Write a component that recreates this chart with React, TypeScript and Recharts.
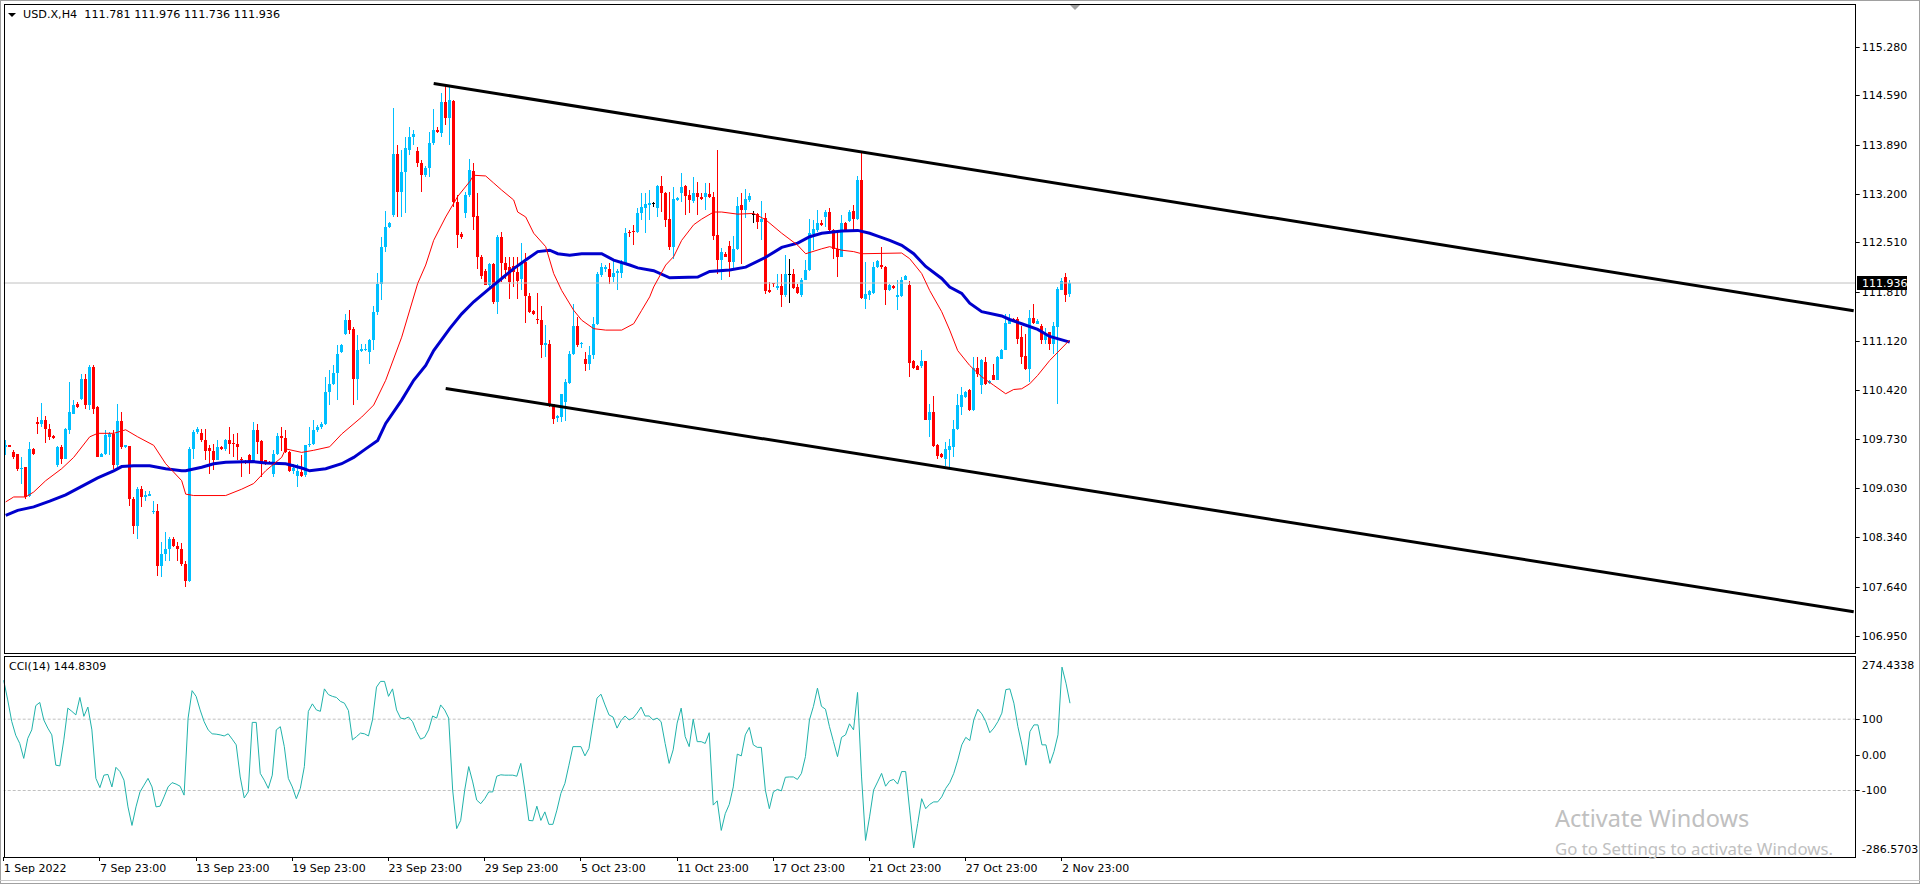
import React from "react";
import { ComposedChart, Bar, Line, XAxis, YAxis, ReferenceLine } from "recharts";

const FONT = "'DejaVu Sans', Verdana, sans-serif";
const BULL = "#00bfff";
const BEAR = "#ff0000";
const SLOTS = 463; // bar slots across the window, right side left empty (chart shift)

const headerText = "USD.X,H4  111.781 111.976 111.736 111.936";
const cciTitle = "CCI(14) 144.8309";
const lastPrice = 111.936;

// H4 candles
const opens = [
  109.615, 109.640, 109.544, 109.511, 109.308, 109.331, 108.930, 109.591, 109.969, 109.936,
  109.993, 109.874, 109.771, 109.355, 109.615, 109.449, 109.851, 110.087, 110.229, 110.300,
  110.573, 110.205, 110.748, 110.181, 109.482, 109.520, 109.756, 109.804, 109.355, 109.983,
  109.615, 109.624, 108.883, 108.495, 109.024, 108.916, 108.930, 108.694, 108.717, 107.938,
  108.103, 108.174, 108.316, 108.222, 108.174, 107.962, 107.725, 109.591, 109.827, 109.813,
  109.719, 109.600, 109.567, 109.435, 109.615, 109.591, 109.709, 109.676, 109.662, 109.449,
  109.412, 109.506, 109.426, 109.860, 109.695, 109.426, 109.402, 109.237, 109.520, 109.766,
  109.747, 109.544, 109.284, 109.213, 109.260, 109.223, 109.638, 109.662, 109.851, 109.898,
  109.945, 110.394, 110.503, 110.663, 110.961, 111.221, 111.409, 111.291, 110.583, 110.975,
  110.984, 110.961, 111.126, 111.528, 111.929, 112.449, 112.732, 112.897, 113.761, 113.228,
  113.511, 113.818, 114.007, 113.809, 113.629, 113.464, 113.558, 113.913, 114.102, 114.054,
  114.503, 114.267, 114.513, 113.086, 112.628, 112.921, 113.180, 113.525, 112.883, 112.297,
  112.108, 111.905, 112.203, 111.669, 112.581, 112.212, 112.156, 112.174, 112.094, 111.999,
  112.236, 111.754, 111.537, 111.433, 111.419, 111.065, 111.079, 110.228, 110.025, 110.040,
  110.252, 110.526, 110.928, 111.324, 111.069, 110.857, 110.795, 110.913, 111.353, 112.047,
  112.141, 112.141, 112.023, 112.071, 112.080, 112.212, 112.661, 112.675, 112.661, 112.921,
  112.991, 113.038, 113.062, 112.991, 113.307, 113.203, 112.835, 112.448, 113.109, 113.203,
  113.307, 113.180, 113.099, 113.203, 113.147, 113.147, 113.190, 113.156, 112.613, 112.259,
  112.353, 112.457, 112.235, 112.424, 113.038, 112.967, 113.109, 112.910, 112.910, 112.802,
  112.849, 111.833, 111.942, 111.871, 111.890, 111.763, 112.070, 112.070, 111.881, 111.763,
  111.985, 112.117, 112.627, 112.684, 112.788, 112.863, 112.944, 112.684, 112.410, 112.306,
  112.788, 112.816, 112.958, 112.835, 113.392, 111.716, 111.763, 111.796, 112.165, 112.188,
  112.165, 111.843, 111.895, 111.740, 111.749, 111.985, 111.905, 110.828, 110.757, 110.757,
  110.828, 110.001, 110.110, 109.638, 109.520, 109.449, 109.576, 109.614, 109.874, 110.181,
  110.323, 110.427, 110.134, 110.738, 110.488, 110.819, 110.521, 110.630, 110.568, 110.866,
  110.993, 111.362, 111.433, 111.433, 111.173, 110.899, 110.724, 111.447, 111.362, 111.324,
  111.126, 111.244, 111.078, 111.315, 111.843, 112.023, 111.781,
];
const highs = [
  109.719, 109.650, 109.577, 109.520, 109.473, 109.331, 109.685, 109.600, 110.040, 110.238,
  110.049, 109.936, 109.780, 109.624, 109.638, 109.890, 110.536, 110.276, 110.252, 110.654,
  110.654, 110.772, 110.772, 110.190, 109.530, 109.860, 109.827, 109.851, 110.229, 110.111,
  109.650, 109.624, 108.906, 109.048, 109.058, 108.991, 108.991, 108.850, 108.812, 108.269,
  108.410, 108.349, 108.340, 108.269, 108.255, 108.009, 109.615, 109.860, 109.898, 109.874,
  109.874, 109.638, 109.652, 109.719, 109.624, 109.733, 109.898, 109.804, 109.813, 109.482,
  109.435, 109.520, 109.969, 109.945, 109.709, 109.435, 109.412, 109.577, 109.813, 109.898,
  109.851, 109.567, 109.378, 109.378, 109.497, 109.638, 109.898, 109.993, 109.922, 109.969,
  110.607, 110.701, 110.772, 111.055, 111.079, 111.504, 111.551, 111.315, 111.197, 111.079,
  111.079, 111.150, 111.608, 112.080, 112.590, 112.959, 112.803, 114.409, 113.889, 113.818,
  114.007, 114.149, 114.102, 113.865, 113.676, 113.591, 114.078, 114.394, 114.149, 114.621,
  114.716, 114.716, 114.527, 113.180, 112.661, 113.228, 113.686, 113.629, 113.204, 112.330,
  112.141, 112.222, 112.212, 112.614, 112.661, 112.307, 112.297, 112.307, 112.297, 112.496,
  112.363, 111.797, 111.550, 111.797, 111.608, 111.339, 111.135, 110.228, 110.063, 110.370,
  110.583, 110.975, 111.636, 111.457, 111.102, 110.961, 111.041, 111.457, 112.094, 112.212,
  112.189, 112.212, 112.259, 112.141, 112.260, 112.708, 112.684, 112.755, 112.991, 113.204,
  113.203, 113.251, 113.085, 113.321, 113.449, 113.227, 113.227, 113.298, 113.156, 113.487,
  113.321, 113.251, 113.430, 113.369, 113.203, 113.345, 113.345, 113.227, 113.817, 112.438,
  112.377, 112.533, 112.599, 113.156, 113.203, 113.260, 113.203, 112.958, 112.929, 113.095,
  112.929, 111.952, 111.942, 112.070, 112.070, 112.330, 112.282, 112.141, 111.919, 112.008,
  112.259, 112.835, 112.826, 112.967, 112.826, 112.967, 112.991, 112.693, 112.674, 112.896,
  112.802, 112.967, 113.038, 113.449, 113.808, 112.235, 111.843, 112.235, 112.260, 112.448,
  112.174, 111.920, 111.905, 111.976, 112.023, 112.050, 111.966, 110.842, 110.770, 110.984,
  110.833, 110.228, 110.332, 109.661, 109.530, 109.685, 109.732, 109.992, 110.370, 110.464,
  110.410, 110.440, 110.889, 110.889, 110.866, 110.889, 110.560, 110.795, 110.900, 111.005,
  111.503, 111.494, 111.445, 111.456, 111.324, 111.210, 111.560, 111.636, 111.433, 111.362,
  111.305, 111.244, 111.385, 111.881, 112.013, 112.080, 111.976,
];
const lows = [
  109.497, 109.610, 109.449, 109.284, 109.095, 108.883, 108.906, 109.510, 109.804, 109.898,
  109.671, 109.719, 109.733, 109.331, 109.378, 109.440, 109.804, 110.080, 110.172, 110.276,
  110.158, 110.134, 110.087, 109.470, 109.470, 109.497, 109.497, 109.308, 109.331, 109.591,
  109.605, 108.788, 108.387, 108.316, 108.764, 108.859, 108.930, 108.670, 107.796, 107.773,
  108.009, 108.009, 108.198, 108.009, 107.938, 107.631, 107.702, 109.449, 109.804, 109.685,
  109.426, 109.237, 109.294, 109.426, 109.580, 109.567, 109.520, 109.473, 109.426, 109.199,
  109.378, 109.237, 109.388, 109.520, 109.190, 109.355, 109.370, 109.199, 109.497, 109.567,
  109.530, 109.260, 109.237, 109.048, 109.190, 109.190, 109.615, 109.638, 109.827, 109.874,
  109.922, 110.205, 110.488, 110.276, 110.940, 111.197, 111.221, 110.205, 110.276, 110.961,
  110.975, 110.796, 110.984, 111.480, 111.693, 112.378, 112.708, 112.874, 112.874, 112.874,
  112.921, 113.747, 113.889, 113.573, 113.228, 113.440, 113.440, 113.889, 114.054, 114.007,
  114.172, 113.889, 113.015, 112.425, 112.552, 112.850, 113.157, 112.684, 112.141, 111.999,
  111.905, 111.882, 111.645, 111.504, 111.952, 111.999, 111.716, 111.882, 111.716, 111.834,
  111.371, 111.513, 111.490, 111.362, 110.876, 110.890, 110.181, 109.945, 109.969, 109.969,
  109.983, 110.512, 110.913, 111.031, 111.022, 110.691, 110.710, 110.866, 111.339, 112.023,
  112.094, 111.929, 111.952, 111.844, 112.000, 112.189, 112.581, 112.472, 112.637, 112.826,
  112.646, 112.826, 113.014, 112.873, 112.944, 112.731, 112.400, 112.282, 113.099, 113.085,
  112.896, 112.929, 113.062, 112.896, 113.109, 112.967, 113.133, 112.542, 112.070, 111.985,
  112.297, 112.023, 112.141, 112.400, 112.211, 112.849, 113.085, 112.788, 112.693, 112.542,
  111.777, 111.796, 111.881, 111.843, 111.598, 111.739, 111.654, 111.857, 111.787, 111.739,
  111.975, 112.108, 112.400, 112.660, 112.741, 112.731, 112.660, 112.282, 112.023, 112.297,
  112.674, 112.802, 112.684, 112.826, 111.716, 111.574, 111.692, 111.787, 112.150, 112.141,
  111.622, 111.830, 111.858, 111.551, 111.740, 111.976, 110.606, 110.724, 110.700, 110.738,
  109.992, 109.756, 109.614, 109.449, 109.460, 109.354, 109.331, 109.473, 109.850, 110.063,
  110.310, 110.120, 110.124, 110.606, 110.370, 110.488, 110.510, 110.559, 110.559, 110.855,
  110.984, 111.352, 111.400, 111.078, 110.795, 110.700, 110.535, 111.362, 111.352, 111.078,
  111.078, 110.984, 110.937, 110.228, 111.834, 111.669, 111.736,
];
const closes = [
  109.638, 109.620, 109.473, 109.308, 109.322, 108.906, 109.591, 109.520, 109.945, 109.993,
  109.874, 109.756, 109.742, 109.615, 109.449, 109.874, 110.111, 110.205, 110.181, 110.573,
  110.205, 110.748, 110.158, 109.482, 109.520, 109.780, 109.804, 109.355, 109.983, 109.615,
  109.638, 108.883, 108.495, 109.024, 108.906, 108.944, 108.954, 108.717, 107.938, 108.103,
  108.174, 108.316, 108.222, 108.174, 107.962, 107.725, 109.591, 109.827, 109.874, 109.709,
  109.567, 109.567, 109.435, 109.615, 109.591, 109.709, 109.662, 109.662, 109.615, 109.426,
  109.393, 109.412, 109.860, 109.685, 109.378, 109.388, 109.378, 109.520, 109.766, 109.747,
  109.544, 109.284, 109.317, 109.284, 109.213, 109.638, 109.662, 109.851, 109.898, 109.945,
  110.394, 110.503, 110.663, 110.937, 111.055, 111.409, 111.268, 110.583, 110.984, 111.008,
  111.008, 111.126, 111.528, 111.929, 112.449, 112.732, 112.779, 113.761, 113.228, 113.511,
  113.842, 114.007, 114.040, 113.629, 113.464, 113.558, 113.913, 114.102, 114.068, 114.503,
  114.267, 114.527, 113.086, 112.614, 112.590, 113.180, 113.535, 112.873, 112.297, 112.033,
  111.905, 112.203, 111.669, 112.581, 112.212, 112.118, 111.952, 112.094, 111.970, 112.236,
  111.754, 111.527, 111.504, 111.409, 111.065, 111.088, 110.205, 110.016, 110.049, 110.370,
  110.536, 110.928, 111.324, 111.055, 111.088, 110.795, 110.913, 111.353, 112.061, 112.156,
  112.165, 112.023, 112.071, 112.108, 112.212, 112.637, 112.637, 112.661, 112.921, 113.006,
  113.052, 113.062, 113.062, 113.307, 113.203, 112.826, 112.448, 113.118, 113.133, 113.298,
  113.166, 113.109, 113.203, 113.147, 113.118, 113.203, 113.147, 112.599, 112.259, 112.377,
  112.306, 112.235, 112.424, 113.024, 112.967, 113.118, 113.166, 112.910, 112.802, 112.835,
  111.824, 111.810, 111.919, 111.890, 111.763, 112.070, 112.070, 111.871, 111.796, 111.985,
  112.117, 112.637, 112.693, 112.778, 112.755, 112.944, 112.684, 112.410, 112.306, 112.778,
  112.684, 112.944, 112.835, 113.392, 111.730, 111.787, 111.820, 112.165, 112.245, 112.165,
  111.843, 111.905, 111.872, 111.763, 111.985, 112.032, 110.804, 110.733, 110.710, 110.828,
  110.001, 110.110, 109.624, 109.496, 109.473, 109.590, 109.624, 109.874, 110.205, 110.346,
  110.394, 110.134, 110.738, 110.653, 110.842, 110.502, 110.549, 110.568, 110.889, 110.993,
  111.371, 111.409, 111.409, 111.149, 110.889, 110.724, 111.447, 111.371, 111.400, 111.126,
  111.220, 111.078, 111.324, 111.858, 111.966, 111.763, 111.936,
];

// moving averages, [bar index, value] read at intervals along the curves
const fastMaPoints: [number, number][] = [
  [0, 108.84], [2, 108.91], [5, 108.91], [7, 108.98], [10, 109.14], [14, 109.31], [17, 109.47],
  [21, 109.76], [23, 109.81], [27, 109.81], [30, 109.86], [33, 109.76], [37, 109.64], [40, 109.38],
  [44, 109.14], [45, 108.95], [47, 108.93], [55, 108.93], [59, 109.02], [62, 109.1], [65, 109.28],
  [69, 109.47], [70, 109.59], [74, 109.54], [77, 109.57], [81, 109.62], [84, 109.8], [89, 110.04],
  [92, 110.21], [95, 110.56], [99, 111.17], [103, 111.93], [105, 112.19], [107, 112.54], [110, 112.87],
  [113, 113.16], [116, 113.37], [117, 113.46], [120, 113.45], [122, 113.35], [124, 113.25], [127, 113.11],
  [128, 112.94], [130, 112.87], [132, 112.64], [135, 112.45], [137, 112.07], [139, 111.83], [142, 111.55],
  [144, 111.41], [147, 111.29], [150, 111.27], [154, 111.27], [157, 111.36], [159, 111.55], [161, 111.74],
  [162, 111.88], [165, 112.19], [167, 112.31], [169, 112.54], [172, 112.76], [174, 112.84], [177, 112.94],
  [179, 112.94], [183, 112.91], [187, 112.92], [190, 112.83], [194, 112.64], [198, 112.47], [200, 112.35],
  [204, 112.42], [206, 112.45], [209, 112.4], [212, 112.38], [214, 112.35], [224, 112.36], [226, 112.28],
  [229, 112.07], [231, 111.83], [234, 111.53], [236, 111.27], [238, 110.98], [241, 110.77], [244, 110.61],
  [247, 110.49], [250, 110.37], [252, 110.43], [254, 110.44], [256, 110.51], [258, 110.63], [261, 110.84],
  [266, 111.13],
];
const slowMaPoints: [number, number][] = [
  [0, 108.65], [3, 108.72], [7, 108.77], [11, 108.85], [15, 108.94], [19, 109.06], [23, 109.18],
  [27, 109.28], [29, 109.34], [32, 109.35], [36, 109.35], [40, 109.31], [44, 109.28], [45, 109.28],
  [49, 109.33], [52, 109.38], [55, 109.4], [62, 109.41], [65, 109.39], [70, 109.38], [74, 109.32],
  [76, 109.28], [80, 109.31], [84, 109.38], [87, 109.47], [90, 109.59], [93, 109.71], [95, 109.95],
  [99, 110.28], [102, 110.56], [105, 110.77], [107, 110.98], [111, 111.29], [114, 111.5], [117, 111.67],
  [121, 111.86], [124, 112.0], [127, 112.14], [130, 112.26], [133, 112.38], [136, 112.4], [138, 112.35],
  [141, 112.33], [144, 112.35], [149, 112.35], [152, 112.26], [156, 112.19], [158, 112.15], [162, 112.11],
  [166, 112.01], [173, 112.02], [176, 112.1], [181, 112.12], [185, 112.16], [190, 112.3], [194, 112.44],
  [198, 112.5], [201, 112.59], [204, 112.64], [209, 112.67], [213, 112.68], [216, 112.64], [218, 112.6],
  [221, 112.54], [224, 112.47], [227, 112.35], [230, 112.17], [234, 112.0], [236, 111.88], [239, 111.79],
  [241, 111.65], [244, 111.53], [249, 111.47], [251, 111.42], [254, 111.36], [258, 111.28], [261, 111.18],
  [266, 111.1],
];

const cciValues = [
  209, 154, 94, 55, 32, -10, 46, 70, 138, 147,
  98, 75, 56, -29, -31, 42, 131, 122, 112, 161,
  108, 134, 70, -66, -92, -57, -55, -90, -35, -47,
  -71, -146, -198, -146, -104, -85, -66, -90, -146, -144,
  -118, -90, -78, -82, -88, -113, 103, 180, 164, 126,
  93, 70, 59, 58, 56, 53, 59, 44, 28, -62,
  -121, -104, 91, 91, -52, -71, -94, -57, 70, 79,
  23, -66, -90, -123, -94, -33, 122, 143, 126, 122,
  185, 169, 164, 161, 150, 145, 124, 42, 51, 61,
  59, 53, 98, 190, 206, 206, 164, 185, 126, 103,
  101, 106, 93, 65, 44, 49, 70, 109, 103, 140,
  126, 103, -99, -207, -184, -99, -33, -76, -127, -137,
  -123, -104, -104, -60, -56, -57, -57, -57, -60, -24,
  -99, -184, -185, -144, -184, -160, -195, -195, -155, -108,
  -80, -29, 23, 23, 23, -3, 18, 89, 159, 170,
  140, 112, 106, 75, 96, 109, 98, 103, 117, 134,
  109, 109, 98, 103, 93, 32, -24, 14, 89, 131,
  51, 23, 100, 37, 37, 32, 62, -141, -129, -212,
  -165, -139, -90, 2, -3, 56, 77, 28, 21, 21,
  -99, -151, -104, -97, -101, -63, -62, -62, -69, -52,
  -5, 98, 136, 187, 136, 128, 79, 37, -5, 49,
  56, 87, 70, 175, -62, -240, -174, -99, -76, -52,
  -88, -73, -69, -82, -47, -47, -155, -261, -193, -123,
  -151, -139, -132, -132, -118, -94, -78, -52, -15, 28,
  49, 40, 98, 128, 115, 93, 62, 75, 93, 117,
  183, 185, 145, 79, 28, -29, 65, 84, 84, 28,
  28, -24, 9, 56, 246, 201, 144.8309,
];

const priceTicks = [115.28, 114.59, 113.89, 113.2, 112.51, 111.81, 111.12, 110.42, 109.73, 109.03, 108.34, 107.64, 106.95];
const cciTicks = [274.4338, 100, 0, -100, -286.5703];
const cciTickLabels = ["274.4338", "100", "0.00", "-100", "-286.5703"];
const timeTickBars = [0, 24, 48, 72, 96, 120, 144, 168, 192, 216, 240, 264];
const timeTickLabels = [
  "1 Sep 2022", "7 Sep 23:00", "13 Sep 23:00", "19 Sep 23:00", "23 Sep 23:00", "29 Sep 23:00",
  "5 Oct 23:00", "11 Oct 23:00", "17 Oct 23:00", "21 Oct 23:00", "27 Oct 23:00", "2 Nov 23:00",
];

// channel lines (two anchor points each)
const upperChannel = [{ x: 107, y: 114.758 }, { x: 462, y: 111.543 }];
const lowerChannel = [{ x: 110, y: 110.445 }, { x: 462, y: 107.286 }];

const fastMap = new Map(fastMaPoints);
const slowMap = new Map(slowMaPoints);

const rows = Array.from({ length: SLOTS }, (_, i) => {
  const has = i < closes.length;
  return {
    i,
    range: has ? [lows[i], highs[i]] : null,
    o: has ? opens[i] : null,
    h: has ? highs[i] : null,
    l: has ? lows[i] : null,
    c: has ? closes[i] : null,
    fast: fastMap.has(i) ? fastMap.get(i) : null,
    slow: slowMap.has(i) ? slowMap.get(i) : null,
    cci: has ? cciValues[i] : null,
  };
});

function Candle(props: any) {
  const { x, y, width, height, payload } = props;
  if (!payload || payload.o == null || x == null || y == null) return null;
  const { o, h, l, c } = payload;
  const top = Math.min(y, y + height);
  const span = Math.abs(height);
  const k = h - l > 0 ? span / (h - l) : 0;
  const yOf = (v: number) => top + (h - v) * k;
  const cx = Math.floor(x + width / 2);
  const color = c > o ? BULL : c < o ? BEAR : "#000000";
  const bTop = Math.round(yOf(Math.max(o, c)));
  const bBot = Math.round(yOf(Math.min(o, c)));
  const wTop = Math.round(top);
  const wBot = Math.round(top + span);
  return (
    <g>
      <rect x={cx} y={wTop} width={1} height={Math.max(1, wBot - wTop)} fill={color} />
      <rect x={cx - 1} y={bTop} width={3} height={Math.max(1, bBot - bTop)} fill={color} />
    </g>
  );
}

function PriceTick(props: any) {
  const { x, y, payload } = props;
  const yy = Math.round(y) + 0.5;
  return (
    <g>
      <line x1={x} x2={x + 4} y1={yy} y2={yy} stroke="#000" />
      <text x={x + 6} y={y} dy={4} fontFamily={FONT} fontSize={11} fill="#000">
        {Number(payload.value).toFixed(3)}
      </text>
    </g>
  );
}

function CciTick(props: any) {
  const { x, y, payload } = props;
  const idx = cciTicks.indexOf(payload.value);
  const shift = idx === 0 ? 8 : idx === cciTicks.length - 1 ? -8 : 0;
  const yy = Math.round(y) + 0.5;
  return (
    <g>
      {shift === 0 && <line x1={x} x2={x + 4} y1={yy} y2={yy} stroke="#000" />}
      <text x={x + 6} y={y + shift} dy={4} fontFamily={FONT} fontSize={11} fill="#000">
        {cciTickLabels[idx]}
      </text>
    </g>
  );
}

function TimeTick(props: any) {
  const { x, y, payload } = props;
  const idx = timeTickBars.indexOf(payload.value);
  const xx = Math.floor(x) + 0.5;
  return (
    <g>
      <line x1={xx} x2={xx} y1={y} y2={y + 4} stroke="#000" />
      <text x={x} y={y + 15} fontFamily={FONT} fontSize={11} fill="#000">
        {timeTickLabels[idx]}
      </text>
    </g>
  );
}

function PriceBadge(props: any) {
  const vb = props.viewBox;
  if (!vb) return null;
  const x = Math.round(vb.x + vb.width);
  const y = vb.y;
  return (
    <g>
      <rect x={x + 1} y={Math.round(y) - 7} width={50} height={14} fill="#000" />
      <text x={x + 6} y={y} dy={4} fontFamily={FONT} fontSize={11} fill="#fff">
        {lastPrice.toFixed(3)}
      </text>
    </g>
  );
}

export default function App() {
  return (
    <div style={{ position: "absolute", left: 0, top: 0, width: 1920, height: 884, background: "#fff", overflow: "hidden" }}>
      <div style={{ position: "absolute", left: 0, top: 0 }}>
        <ComposedChart width={1920} height={654} data={rows} margin={{ top: 5, right: 0, bottom: 1, left: 3.7 }}>
          <XAxis dataKey="i" type="category" hide height={0} />
          <YAxis
            orientation="right"
            type="number"
            domain={[106.703, 115.868]}
            allowDataOverflow
            ticks={priceTicks}
            interval={0}
            width={64.3}
            axisLine={false}
            tickLine={false}
            tickSize={0}
            tickMargin={0}
            tick={<PriceTick />}
          />
          <ReferenceLine y={lastPrice} stroke="#c0c0c0" strokeWidth={1} />
          <Bar dataKey="range" shape={(p: any) => <Candle {...p} />} isAnimationActive={false} />
          <Line dataKey="slow" stroke="#0000cd" strokeWidth={3} dot={false} activeDot={false} connectNulls isAnimationActive={false} />
          <Line dataKey="fast" stroke="#ff0000" strokeWidth={1} dot={false} activeDot={false} connectNulls isAnimationActive={false} />
          <ReferenceLine segment={upperChannel} stroke="#000" strokeWidth={3} />
          <ReferenceLine segment={lowerChannel} stroke="#000" strokeWidth={3} />
          <ReferenceLine y={lastPrice} stroke="none" label={<PriceBadge />} />
        </ComposedChart>
      </div>
      <div style={{ position: "absolute", left: 0, top: 656 }}>
        <ComposedChart width={1920} height={228} data={rows} margin={{ top: 1, right: 0, bottom: 0, left: 3.7 }}>
          <XAxis
            dataKey="i"
            type="category"
            ticks={timeTickBars}
            interval={0}
            height={27}
            axisLine={false}
            tickLine={false}
            tickSize={0}
            tickMargin={0}
            tick={<TimeTick />}
          />
          <YAxis
            orientation="right"
            type="number"
            domain={[-286.5703, 274.4338]}
            allowDataOverflow
            ticks={cciTicks}
            interval={0}
            width={64.3}
            axisLine={false}
            tickLine={false}
            tickSize={0}
            tickMargin={0}
            tick={<CciTick />}
          />
          <ReferenceLine y={100} stroke="#c0c0c0" strokeDasharray="3 2" />
          <ReferenceLine y={-100} stroke="#c0c0c0" strokeDasharray="3 2" />
          <Line dataKey="cci" stroke="#20b2aa" strokeWidth={1} dot={false} activeDot={false} isAnimationActive={false} />
        </ComposedChart>
      </div>
      <svg width={1920} height={884} style={{ position: "absolute", left: 0, top: 0, pointerEvents: "none" }}>
        <rect x={0.5} y={0.5} width={1919} height={883} fill="none" stroke="#a0a0a0" />
        <rect x={4.5} y={4.5} width={1851} height={649} fill="none" stroke="#000" />
        <rect x={4.5} y={656.5} width={1851} height={201} fill="none" stroke="#000" />
        <line x1={0} x2={1920} y1={880.5} y2={880.5} stroke="#c8c8c8" />
        <polygon points="1070,5 1080,5 1075,10" fill="#a0a0a0" />
        <polygon points="8,13 16,13 12,17" fill="#000" />
        <text x={1555} y={827} fontFamily="'Noto Sans', 'Open Sans', sans-serif" fontSize={23.5} fill="#c0c0c0">
          Activate Windows
        </text>
        <text x={1555} y={855} fontFamily="'Noto Sans', 'Open Sans', sans-serif" fontSize={16.8} fill="#c0c0c0">
          Go to Settings to activate Windows.
        </text>
      </svg>
      <div style={{ position: "absolute", left: 23, top: 8, fontFamily: FONT, fontSize: 11.2, lineHeight: "14px", whiteSpace: "pre", color: "#000" }}>
        {headerText}
      </div>
      <div style={{ position: "absolute", left: 9, top: 660, fontFamily: FONT, fontSize: 11, lineHeight: "13px", whiteSpace: "pre", color: "#000" }}>
        {cciTitle}
      </div>
    </div>
  );
}
